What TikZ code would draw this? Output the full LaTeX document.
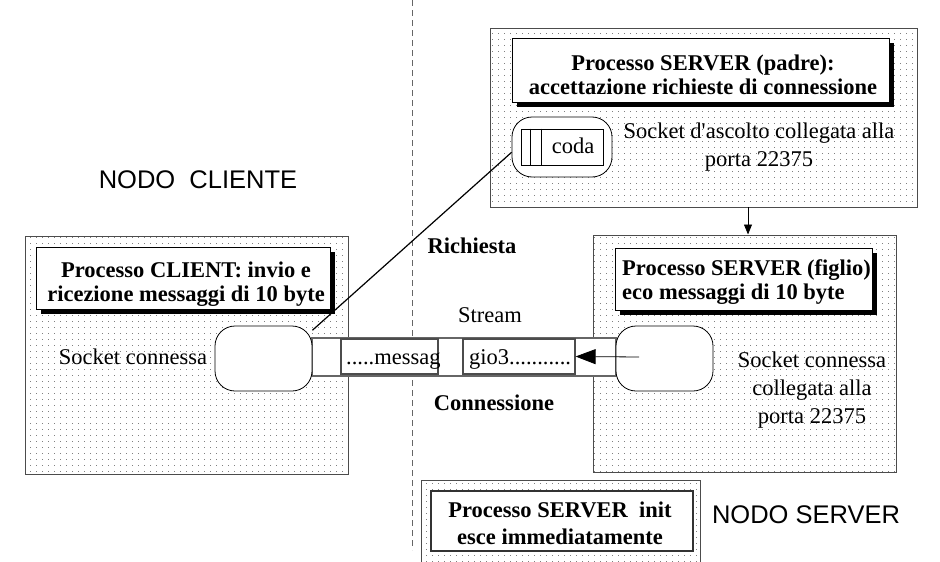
\documentclass[tikz,border=0pt]{standalone}
\usepackage{fontspec}
\setmainfont{Liberation Serif}
\newfontfamily\nodofont{Liberation Sans}
\usetikzlibrary{patterns,shadows,arrows.meta}

\pgfdeclarepatternformonly{sparse dots}{\pgfpointorigin}{\pgfpoint{6pt}{6pt}}{\pgfpoint{6pt}{6pt}}%
  {\pgfpathrectangle{\pgfpointorigin}{\pgfpoint{1pt}{1pt}}\pgfusepath{fill}}

\begin{document}
\begin{tikzpicture}[x=1pt,y=-1pt,
  every node/.style={font=\fontsize{22.5}{28}\selectfont},
  procbox/.style={draw=black!70,line width=1pt,pattern=sparse dots,pattern color=black!50},
  headbox/.style={draw,fill=white,line width=0.8pt,
    drop shadow={shadow xshift=4.5pt,shadow yshift=-4.5pt,fill=black,opacity=1}},
  initbox/.style={draw=black!80,fill=white,line width=1.2pt},
  sockbox/.style={draw,fill=white,rounded corners=20pt,line width=0.8pt},
  msgbox/.style={draw=black!70,fill=white,line width=1.2pt},
  heading/.style={font=\fontsize{22.5}{24}\selectfont\bfseries},
  nodo/.style={font=\fontsize{25.5}{30}\selectfont\nodofont}]
  \useasboundingbox (0,0) rectangle (940,562);

  \node[procbox,minimum width=427pt,minimum height=179pt] at (703.5,117.5) (padre) {};
  \node[procbox,minimum width=303pt,minimum height=237pt] at (744.5,353.5) (figlio) {};
  \node[procbox,minimum width=323pt,minimum height=238pt] at (186.5,355) (client) {};
  \node[procbox,minimum width=279pt,minimum height=86pt] at (560.5,523) (init) {};

  \coordinate (alto) at (412,0);
  \coordinate (basso) at (412,550);
  \draw[black!60,line width=0.8pt,dash pattern=on 6pt off 4pt] (alto) -- (basso);

  \node[draw=black!60,line width=1.5pt,fill=white,minimum width=304pt,minimum height=38pt] at (464,357) (stream) {};
  \node[msgbox,minimum width=97pt,minimum height=35pt] at (389.5,356.5) (msg1) {};
  \node[msgbox,minimum width=112pt,minimum height=35pt] at (519,356.5) (msg2) {};
  \node[anchor=west,inner sep=0pt] at (346,361) (msg1txt) {.....messag};
  \node[anchor=west,inner sep=0pt] at (469,359.5) (msg2txt) {gio3...........};

  \node[sockbox,minimum width=97pt,minimum height=65pt] at (263.5,358.5) (csock) {};
  \node[sockbox,minimum width=97pt,minimum height=65pt] at (664.5,358.5) (fsock) {};
  \node[sockbox,minimum width=100pt,minimum height=60pt] at (562,147) (queue) {};
  \node[draw,line width=0.8pt,minimum width=82pt,minimum height=36pt] at (562,147) (coda) {};
  \foreach \dx in {10,21}
    \draw[line width=0.8pt] ([xshift=\dx pt]coda.north west) -- ([xshift=\dx pt]coda.south west);
  \node at (573,146) (codatxt) {coda};

  \node[headbox,minimum width=377pt,minimum height=64pt] at (700.5,70) (padrehead) {};
  \node[headbox,minimum width=294pt,minimum height=62pt] at (183,278) (clienthead) {};
  \node[headbox,minimum width=257pt,minimum height=62pt] at (743.5,279) (figliohead) {};
  \node[initbox,minimum width=262pt,minimum height=60pt] at (562,521) (inithead) {};

  \node[heading,align=center] at (703,75) (padretxt) {Processo SERVER (padre):\\accettazione richieste di connessione};
  \node[heading,align=center] at (186,284) (clienttxt) {Processo CLIENT: invio e\\ricezione messaggi di 10 byte};
  \node[heading,align=left,anchor=west,inner sep=0pt] at (622,282.5) (figliotxt) {Processo SERVER (figlio)\\eco messaggi di 10 byte};
  \node[heading,align=center] at (560,523.5) (inittxt) {Processo SERVER\ \ init\\[3pt]esce immediatamente};

  \node[align=center] at (759,147.5) (ascolto) {Socket d\textquotesingle ascolto collegata alla\\porta 22375};
  \node at (133,357) (csocktxt) {Socket connessa};
  \node[align=center] at (812,390) (fsocktxt) {Socket connessa\\collegata alla\\porta 22375};
  \node[heading] at (472,246) (richiesta) {Richiesta};
  \node at (490,315) (streamtxt) {Stream};
  \node[heading] at (494,403) (connessione) {Connessione};
  \node[nodo] at (198,180) (nodoclient) {NODO\ \ CLIENTE};
  \node[nodo] at (806,515) (nodoserver) {NODO SERVER};

  \draw[line width=1.2pt] (csock.30) -- (queue.186);
  \coordinate (forca) at (748,207);
  \draw[line width=0.8pt,-{Triangle[length=10pt,width=8pt]}] (forca) -- (forca |- figlio.north);
  \coordinate (eco) at (639,357);
  \draw[line width=0.8pt,-{Triangle[length=20pt,width=15pt]}] (eco) -- (msg2.east);
\end{tikzpicture}
\end{document}
